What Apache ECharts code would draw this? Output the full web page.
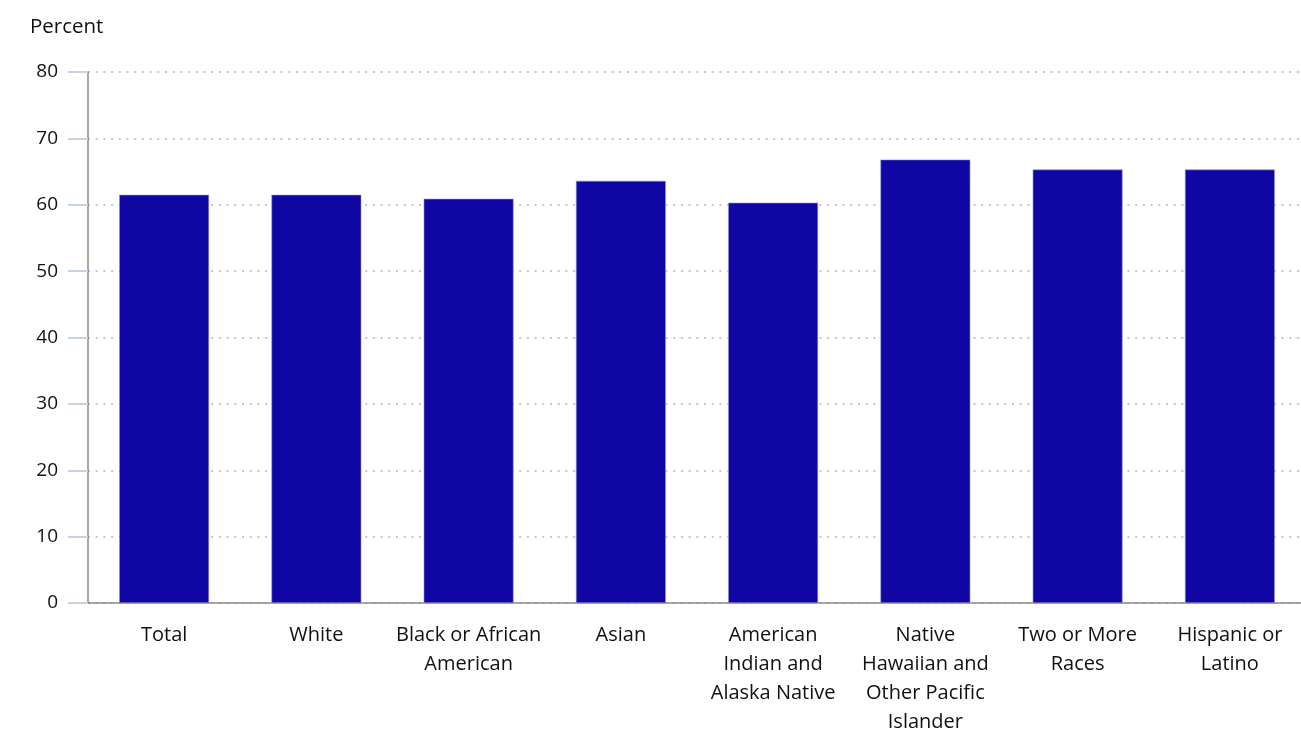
<!DOCTYPE html>
<html>
<head>
<meta charset="utf-8">
<script src="https://cdn.jsdelivr.net/npm/echarts@6/dist/echarts.min.js"></script>
<style>html,body{margin:0;padding:0;background:#fff}#c{width:1301px;height:736px}</style>
</head>
<body>
<div id="c"></div>
<script>
const categories = [
  "Total",
  "White",
  "Black or African\nAmerican",
  "Asian",
  "American\nIndian and\nAlaska Native",
  "Native\nHawaiian and\nOther Pacific\nIslander",
  "Two or More\nRaces",
  "Hispanic or\nLatino"
];
const values = [61.5, 61.5, 60.9, 63.6, 60.3, 66.8, 65.3, 65.3];
const yTicks = [0, 10, 20, 30, 40, 50, 60, 70, 80];
const yTitle = "Percent";

const font = "'Open Sans', 'Noto Sans', sans-serif";
const chart = echarts.init(document.getElementById('c'), null, {renderer: 'canvas'});
chart.setOption({
  animation: false,
  graphic: [{
    type: 'text', left: 30, top: 17,
    style: {text: yTitle, font: "20.5px " + font, fill: '#111'}
  }],
  grid: {left: 88, width: 1218, top: 72, bottom: 133, containLabel: false, outerBoundsMode: 'none'},
  xAxis: {
    type: 'category',
    data: categories,
    axisLine: {show: true, lineStyle: {color: '#8a8a8a', width: 1.5}},
    axisTick: {show: false},
    axisLabel: {
      interval: 0, margin: 18, color: '#111', fontSize: 20,
      fontFamily: font, lineHeight: 29, verticalAlign: 'top'
    },
    splitLine: {show: false}
  },
  yAxis: {
    type: 'value',
    min: yTicks[0], max: yTicks[yTicks.length - 1], interval: 10,
    axisLine: {show: true, lineStyle: {color: '#8a8a8a', width: 1.5}},
    axisTick: {show: true, inside: false, length: 20, lineStyle: {color: '#c4d3e6', width: 2}},
    axisLabel: {margin: 30, color: '#111', fontSize: 19, fontFamily: font},
    splitLine: {show: true, lineStyle: {color: '#b5b5b5', type: [2, 5.7], width: 1.5}}
  },
  series: [{
    type: 'bar',
    data: values,
    barWidth: '59%',
    itemStyle: {color: '#1006a3', borderColor: '#8f8fd6', borderWidth: 0.6}
  }]
});
</script>
</body>
</html>
